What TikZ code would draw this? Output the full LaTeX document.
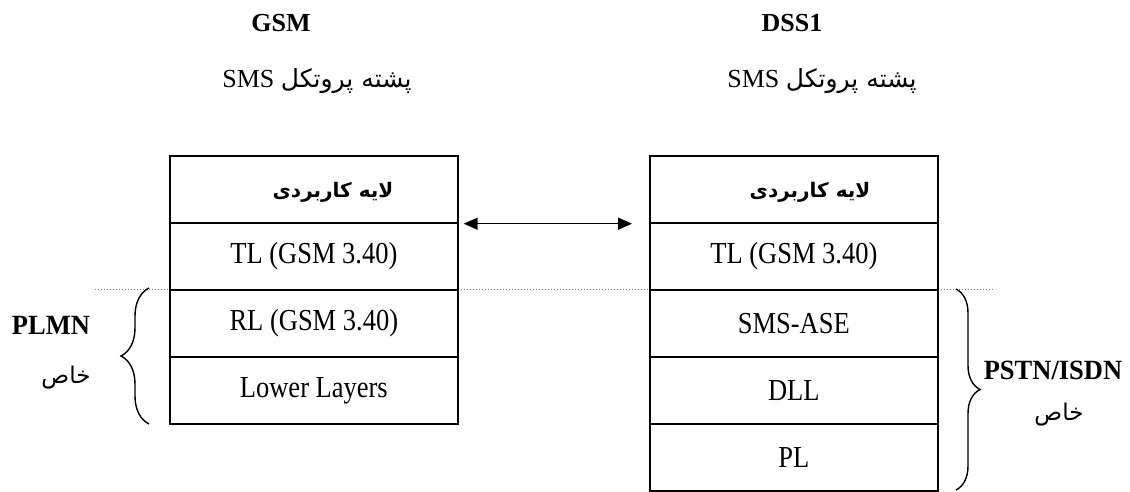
\documentclass[tikz,border=0pt]{standalone}
\usepackage{fontspec}
\setmainfont{Liberation Serif}
\newfontfamily\fa[Script=Arabic]{DejaVu Sans}
\TeXXeTstate=1
\usetikzlibrary{arrows.meta,decorations.pathreplacing}

% slightly tall lettering
\newcommand\vstr[1]{\scalebox{1}[1.15]{#1}}
\newcommand\vstrb[1]{\scalebox{1}[1.05]{#1}}

\tikzset{
  layer/.style={draw, line width=1.7pt, minimum width=288pt, minimum height=67pt,
                anchor=north west, inner sep=0pt, font=\fontsize{26.5}{30}\selectfont},
  title/.style={font=\fontsize{26}{30}\selectfont\bfseries},
  subtitle/.style={font=\fontsize{26}{30}\selectfont},
  netname/.style={font=\fontsize{26.5}{30}\selectfont\bfseries},
  fatext/.style={font=\fontsize{23}{27}\selectfont\fa},
  curly/.style={decorate, line width=1.4pt},
}

\begin{document}
\begin{tikzpicture}[x=1pt, y=-1pt]
\useasboundingbox (0,0) rectangle (1130,492);

% boundary between the common and the network-specific layers
\draw[gray, line width=1pt, dotted] (95,289) -- (995,289);

% GSM stack
\node[layer, fill=white] (la) at (169,155) {};
\node[font=\fontsize{20}{24}\selectfont\fa\bfseries] (lat) at (333,192) {\beginR لایه کاربردی\endR};
\node[layer, fill=white] (lt) at (169,222) {\vstr{TL (GSM 3.40)}};
\node[layer, fill=white] (lr) at (169,289) {\vstr{RL (GSM 3.40)}};
\node[layer, fill=white] (ll) at (169,356) {\vstr{Lower Layers}};

% DSS1 stack
\node[layer, fill=white] (ra) at (649,155) {};
\node[font=\fontsize{20}{24}\selectfont\fa\bfseries] (rat) at (810,192) {\beginR لایه کاربردی\endR};
\node[layer, fill=white] (rt) at (649,222) {\vstr{TL (GSM 3.40)}};
\node[layer, fill=white] (rs) at (649,289) {\vstr{SMS-ASE}};
\node[layer, fill=white] (rd) at (649,356) {\vstr{DLL}};
\node[layer, fill=white] (rp) at (649,423) {\vstr{PL}};

% peer-to-peer relation between the application layers
\coordinate (aL) at ([xshift=5pt]la.south east);
\coordinate (aR) at ([xshift=-17pt]ra.south west);
\draw[{Triangle[length=14pt,width=12pt]}-{Triangle[length=14pt,width=12pt]}, line width=1.5pt] (aL) -- (aR);

% headings
\node[title] (tg) at (281,23) {GSM};
\node[title] (td) at (792,23) {DSS1};
\node[subtitle] (sg) at (317,81) {\beginR{\fontsize{25}{30}\selectfont\fa پشته پروتکل} \beginL SMS\endL\endR};
\node[subtitle] (sd) at (822,81) {\beginR{\fontsize{25}{30}\selectfont\fa پشته پروتکل} \beginL SMS\endL\endR};

% network-specific braces
\coordinate (bl1) at (149,424);
\coordinate (bl2) at (149,288);
\draw[curly, decoration={brace, amplitude=28pt}] (bl1) -- (bl2);
\coordinate (br1) at (956,289);
\coordinate (br2) at (956,490);
\draw[curly, decoration={brace, amplitude=24pt}] (br1) -- (br2);

\node[netname] (plmn) at (51,325) {\vstrb{PLMN}};
\node[fatext] (plmnk) at (66,378) {\beginR خاص\endR};
\node[netname] (pstn) at (1053,370) {\vstrb{PSTN/ISDN}};
\node[fatext] (pstnk) at (1059,415) {\beginR خاص\endR};
\end{tikzpicture}
\end{document}
